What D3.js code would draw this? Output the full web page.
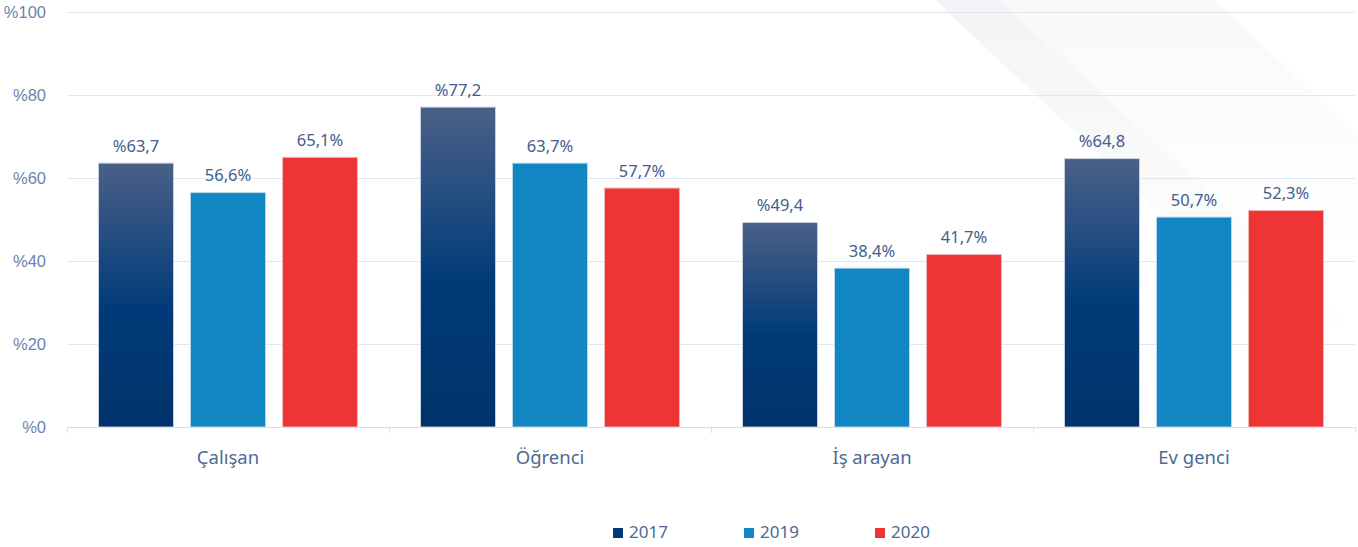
<!DOCTYPE html>
<html>
<head>
<meta charset="utf-8">
<script src="https://cdn.jsdelivr.net/npm/d3@7"></script>
<style>
  body { margin: 0; background: #fff; }
  svg { display: block; font-family: "Noto Sans", sans-serif; }
</style>
</head>
<body>
<div id="chart"></div>
<script>
// Données
const categories = ['Çalışan', 'Öğrenci', 'İş arayan', 'Ev genci'];
const years = ['2017', '2019', '2020'];
const values2017 = [63.7, 77.2, 49.4, 64.8];
const values2019 = [56.6, 63.7, 38.4, 50.7];
const values2020 = [65.1, 57.7, 41.7, 52.3];
const yTicks = [0, 20, 40, 60, 80, 100];

const series = [values2017, values2019, values2020];

const width = 1358, height = 547;
const margin = { top: 12, right: 3, bottom: 120, left: 67 };

const svg = d3.select('#chart')
    .append('svg')
    .attr('width', width)
    .attr('height', height);

const defs = svg.append('defs');

// Dégradé pour les barres 2017
const grad = defs.append('linearGradient')
    .attr('id', 'g2017')
    .attr('x1', 0).attr('y1', 0).attr('x2', 0).attr('y2', 1);
grad.append('stop').attr('offset', '0%').attr('stop-color', '#4a6088');
grad.append('stop').attr('offset', '55%').attr('stop-color', '#003b79');
grad.append('stop').attr('offset', '100%').attr('stop-color', '#00336a');

// Fondu des bandes du fond
const fade = defs.append('linearGradient')
    .attr('id', 'fade')
    .attr('gradientUnits', 'userSpaceOnUse')
    .attr('x1', 0).attr('y1', 0).attr('x2', 0).attr('y2', 330);
fade.append('stop').attr('offset', '0%').attr('stop-color', '#f4f4f6').attr('stop-opacity', 1);
fade.append('stop').attr('offset', '100%').attr('stop-color', '#f4f4f6').attr('stop-opacity', 0);

const fade2 = defs.append('linearGradient')
    .attr('id', 'fade2')
    .attr('gradientUnits', 'userSpaceOnUse')
    .attr('x1', 0).attr('y1', 0).attr('x2', 0).attr('y2', 250);
fade2.append('stop').attr('offset', '0%').attr('stop-color', '#f9f9fa').attr('stop-opacity', 1);
fade2.append('stop').attr('offset', '100%').attr('stop-color', '#f9f9fa').attr('stop-opacity', 0);

const bg = svg.append('g');
bg.append('polygon')
    .attr('points', '935,0 1000,0 1358,330 1358,400')
    .attr('fill', 'url(#fade)');
bg.append('polygon')
    .attr('points', '1000,0 1215,0 1358,135 1358,330')
    .attr('fill', 'url(#fade2)');

const x0 = d3.scaleBand()
    .domain(categories)
    .range([margin.left, width - margin.right])
    .paddingInner(0)
    .paddingOuter(0);

const x1 = d3.scaleBand()
    .domain(years)
    .range([0, x0.bandwidth()])
    .paddingInner(0.174)
    .paddingOuter(0.337);

const y = d3.scaleLinear()
    .domain([0, 100])
    .range([height - margin.bottom, margin.top]);

// Grille
svg.append('g')
    .selectAll('line')
    .data(yTicks.filter(d => d > 0))
    .enter()
    .append('line')
    .attr('x1', margin.left)
    .attr('x2', width - margin.right)
    .attr('y1', d => y(d) + 0.5)
    .attr('y2', d => y(d) + 0.5)
    .attr('stroke', '#dde8f5')
    .attr('stroke-width', 1);

// Axe Y
const yAxis = svg.append('g')
    .attr('transform', `translate(${margin.left - 18},0)`)
    .call(d3.axisLeft(y).tickValues(yTicks).tickSize(0).tickFormat(d => '%' + d));
yAxis.select('.domain').remove();
yAxis.selectAll('text')
    .attr('fill', '#6a84ab')
    .attr('font-size', '16.5px')
    .attr('dy', '0.35em');

// Barres
const colors = ['url(#g2017)', '#1186c3', '#ee3536'];
const strokes = ['#c5cfdf', '#bcd7ec', '#f3b5b5'];

const groups = svg.append('g')
    .selectAll('.cat')
    .data(categories)
    .enter()
    .append('g')
    .attr('class', 'cat')
    .attr('transform', d => `translate(${x0(d)},0)`);

groups.each(function(cat, ci) {
    const g = d3.select(this);
    const rows = years.map((yr, si) => ({ yr, si, v: series[si][ci] }));

    g.selectAll('rect')
        .data(rows)
        .enter()
        .append('rect')
        .attr('x', d => x1(d.yr) + 0.5)
        .attr('y', d => y(d.v) + 0.5)
        .attr('width', x1.bandwidth() - 1)
        .attr('height', d => y(0) - y(d.v) - 0.5)
        .attr('fill', d => colors[d.si])
        .attr('stroke', d => strokes[d.si])
        .attr('stroke-width', 1);

    g.selectAll('text')
        .data(rows)
        .enter()
        .append('text')
        .attr('x', d => x1(d.yr) + x1.bandwidth() / 2)
        .attr('y', d => y(d.v) - 11)
        .attr('text-anchor', 'middle')
        .attr('fill', '#42608c')
        .attr('font-size', '16.5px')
        .text(d => d.si === 0
            ? '%' + d.v.toFixed(1).replace('.', ',')
            : d.v.toFixed(1).replace('.', ',') + '%');
});

// Axe X
const xAxis = svg.append('g')
    .attr('transform', `translate(0,${y(0)})`);
xAxis.append('line')
    .attr('x1', margin.left)
    .attr('x2', width - margin.right)
    .attr('y1', 0.5).attr('y2', 0.5)
    .attr('stroke', '#d5e0ee');
const bounds = categories.map(c => x0(c)).concat([width - margin.right]);
xAxis.selectAll('.tk')
    .data(bounds)
    .enter()
    .append('line')
    .attr('x1', d => Math.round(d) + 0.5)
    .attr('x2', d => Math.round(d) + 0.5)
    .attr('y1', 0).attr('y2', 6)
    .attr('stroke', '#d5e0ee');
xAxis.selectAll('.lbl')
    .data(categories)
    .enter()
    .append('text')
    .attr('x', d => x0(d) + x0.bandwidth() / 2)
    .attr('y', 37)
    .attr('text-anchor', 'middle')
    .attr('fill', '#4d6a94')
    .attr('font-size', '18.5px')
    .text(d => d);

// Légende
const legendX = [613, 744, 875];
const legendColors = ['#003b79', '#1186c3', '#ee3536'];
const legend = svg.append('g')
    .selectAll('.leg')
    .data(years)
    .enter()
    .append('g')
    .attr('transform', (d, i) => `translate(${legendX[i]},528)`);
legend.append('rect')
    .attr('width', 10).attr('height', 10)
    .attr('fill', (d, i) => legendColors[i]);
legend.append('text')
    .attr('x', 16)
    .attr('y', 9.5)
    .attr('fill', '#4d6a94')
    .attr('font-size', '17px')
    .text(d => d);
</script>
</body>
</html>
